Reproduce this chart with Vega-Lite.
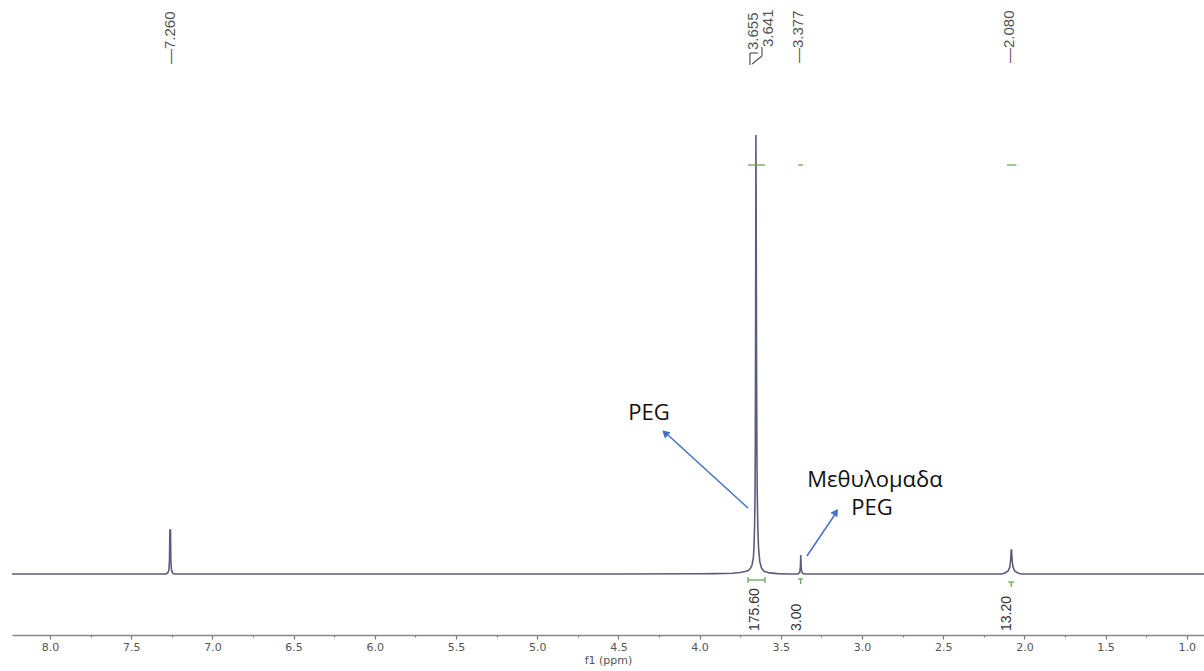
{
  "$schema": "https://vega.github.io/schema/vega-lite/v6.json",
  "width": 1192,
  "height": 635,
  "autosize": {"type": "none"},
  "padding": {"left": 12, "top": 0, "right": 0, "bottom": 36},
  "background": "white",
  "config": {"view": {"stroke": null}},
  "layer": [
    {
      "data": {"values": [
        {"ppm": 8.234, "intensity": 0}, {"ppm": 7.6, "intensity": 0}, {"ppm": 7.3, "intensity": 0},
        {"ppm": 7.285, "intensity": 0}, {"ppm": 7.275, "intensity": 1}, {"ppm": 7.268, "intensity": 4},
        {"ppm": 7.264, "intensity": 14}, {"ppm": 7.262, "intensity": 44}, {"ppm": 7.258, "intensity": 44},
        {"ppm": 7.256, "intensity": 14}, {"ppm": 7.252, "intensity": 4}, {"ppm": 7.245, "intensity": 1},
        {"ppm": 7.235, "intensity": 0}, {"ppm": 6.0, "intensity": 0}, {"ppm": 4.5, "intensity": 0},
        {"ppm": 4.0, "intensity": 0.2}, {"ppm": 3.9, "intensity": 0.4}, {"ppm": 3.8, "intensity": 0.8},
        {"ppm": 3.75, "intensity": 1.5}, {"ppm": 3.72, "intensity": 2.5}, {"ppm": 3.7, "intensity": 3.5},
        {"ppm": 3.688, "intensity": 5.5}, {"ppm": 3.677, "intensity": 9}, {"ppm": 3.669, "intensity": 16},
        {"ppm": 3.665, "intensity": 27}, {"ppm": 3.661, "intensity": 50}, {"ppm": 3.659, "intensity": 75},
        {"ppm": 3.657, "intensity": 125}, {"ppm": 3.655, "intensity": 250}, {"ppm": 3.653, "intensity": 439},
        {"ppm": 3.651, "intensity": 330}, {"ppm": 3.649, "intensity": 200}, {"ppm": 3.647, "intensity": 120},
        {"ppm": 3.645, "intensity": 80}, {"ppm": 3.641, "intensity": 44}, {"ppm": 3.637, "intensity": 26},
        {"ppm": 3.629, "intensity": 12}, {"ppm": 3.618, "intensity": 5.7}, {"ppm": 3.603, "intensity": 2.8},
        {"ppm": 3.57, "intensity": 1.1}, {"ppm": 3.52, "intensity": 0.4}, {"ppm": 3.45, "intensity": 0},
        {"ppm": 3.4, "intensity": 0}, {"ppm": 3.39, "intensity": 0.5}, {"ppm": 3.383, "intensity": 2},
        {"ppm": 3.379, "intensity": 8}, {"ppm": 3.377, "intensity": 19}, {"ppm": 3.375, "intensity": 8},
        {"ppm": 3.371, "intensity": 2}, {"ppm": 3.364, "intensity": 0.5}, {"ppm": 3.35, "intensity": 0},
        {"ppm": 2.5, "intensity": 0}, {"ppm": 2.14, "intensity": 0}, {"ppm": 2.12, "intensity": 1},
        {"ppm": 2.1, "intensity": 3}, {"ppm": 2.09, "intensity": 7}, {"ppm": 2.085, "intensity": 13},
        {"ppm": 2.081, "intensity": 24}, {"ppm": 2.079, "intensity": 24}, {"ppm": 2.075, "intensity": 13},
        {"ppm": 2.07, "intensity": 7}, {"ppm": 2.06, "intensity": 3}, {"ppm": 2.04, "intensity": 1},
        {"ppm": 2.02, "intensity": 0}, {"ppm": 1.5, "intensity": 0}, {"ppm": 0.894, "intensity": 0}
      ]},
      "mark": {"type": "line", "color": "#5c5c7c", "strokeWidth": 1.6},
      "encoding": {
        "x": {
          "field": "ppm", "type": "quantitative",
          "scale": {"domain": [0.894, 8.234], "reverse": true, "nice": false, "zero": false},
          "axis": {
            "title": "f1 (ppm)",
            "values": [8.0, 7.75, 7.5, 7.25, 7.0, 6.75, 6.5, 6.25, 6.0, 5.75, 5.5, 5.25, 5.0, 4.75, 4.5, 4.25, 4.0, 3.75, 3.5, 3.25, 3.0, 2.75, 2.5, 2.25, 2.0, 1.75, 1.5, 1.25, 1.0],
            "labelExpr": "datum.value % 0.5 === 0 ? format(datum.value, '.1f') : ''",
            "tickSize": {"condition": {"test": "datum.value % 0.5 !== 0", "value": 2}, "value": 4},
            "grid": false,
            "domainColor": "#888888", "domainWidth": 1.5,
            "tickColor": "#777777", "tickWidth": 1.2,
            "labelFont": "DejaVu Sans", "labelFontSize": 11, "labelColor": "#555555",
            "labelPadding": 2, "labelFlush": false, "labelOverlap": false,
            "titleFont": "DejaVu Sans", "titleFontSize": 11, "titleFontWeight": "normal",
            "titleColor": "#555555", "titlePadding": 2
          }
        },
        "y": {
          "field": "intensity", "type": "quantitative",
          "scale": {"domain": [-61, 574], "nice": false, "zero": false},
          "axis": null
        }
      }
    },
    {
      "data": {"values": [
        {"ppm": 3.690, "ppm2": 3.640, "y": 521, "y2": 521},
        {"ppm": 3.690, "ppm2": 3.690, "y": 521, "y2": 509},
        {"ppm": 3.616, "ppm2": 3.616, "y": 527, "y2": 518},
        {"ppm": 3.616, "ppm2": 3.677, "y": 518, "y2": 510}
      ]},
      "mark": {"type": "rule", "color": "#555555", "strokeWidth": 1.2},
      "encoding": {
        "x": {"field": "ppm", "type": "quantitative"},
        "x2": {"field": "ppm2"},
        "y": {"field": "y", "type": "quantitative", "axis": null},
        "y2": {"field": "y2"}
      }
    },
    {
      "data": {"values": [
        {"ppm": 7.261, "y": 510, "label": "—7.260"},
        {"ppm": 3.671, "y": 524, "label": "3.655"},
        {"ppm": 3.579, "y": 527, "label": "3.641"},
        {"ppm": 3.394, "y": 511, "label": "—3.377"},
        {"ppm": 2.095, "y": 511, "label": "—2.080"}
      ]},
      "mark": {"type": "text", "angle": 270, "align": "left", "baseline": "middle", "font": "Liberation Sans", "fontSize": 15, "color": "#555555"},
      "encoding": {
        "x": {"field": "ppm", "type": "quantitative"},
        "y": {"field": "y", "type": "quantitative", "axis": null},
        "text": {"field": "label"}
      }
    },
    {
      "data": {"values": [
        {"ppm": 3.659, "y": -57, "label": "175.60"},
        {"ppm": 3.400, "y": -57, "label": "3.00"},
        {"ppm": 2.107, "y": -57, "label": "13.20"}
      ]},
      "mark": {"type": "text", "angle": 270, "align": "left", "baseline": "middle", "font": "Liberation Sans", "fontSize": 14, "color": "#333333"},
      "encoding": {
        "x": {"field": "ppm", "type": "quantitative"},
        "y": {"field": "y", "type": "quantitative", "axis": null},
        "text": {"field": "label"}
      }
    },
    {
      "data": {"values": [
        {"ppm": 3.702, "ppm2": 3.597, "y": -6, "y2": -6},
        {"ppm": 3.702, "ppm2": 3.702, "y": -3, "y2": -9},
        {"ppm": 3.597, "ppm2": 3.597, "y": -3, "y2": -9},
        {"ppm": 3.394, "ppm2": 3.363, "y": -5, "y2": -5},
        {"ppm": 3.378, "ppm2": 3.378, "y": -5, "y2": -10},
        {"ppm": 2.100, "ppm2": 2.063, "y": -8, "y2": -8},
        {"ppm": 2.081, "ppm2": 2.081, "y": -8, "y2": -13},
        {"ppm": 3.702, "ppm2": 3.597, "y": 409, "y2": 409},
        {"ppm": 3.394, "ppm2": 3.363, "y": 409, "y2": 409},
        {"ppm": 2.107, "ppm2": 2.049, "y": 409, "y2": 409}
      ]},
      "mark": {"type": "rule", "color": "#6aa85a", "strokeWidth": 1.3},
      "encoding": {
        "x": {"field": "ppm", "type": "quantitative"},
        "x2": {"field": "ppm2"},
        "y": {"field": "y", "type": "quantitative", "axis": null},
        "y2": {"field": "y2"}
      }
    },
    {
      "data": {"values": [
        {"ppm": 3.702, "ppm2": 4.222, "y": 66, "y2": 143},
        {"ppm": 3.339, "ppm2": 3.152, "y": 18, "y2": 63}
      ]},
      "mark": {"type": "rule", "color": "#4472c4", "strokeWidth": 1.5},
      "encoding": {
        "x": {"field": "ppm", "type": "quantitative"},
        "x2": {"field": "ppm2"},
        "y": {"field": "y", "type": "quantitative", "axis": null},
        "y2": {"field": "y2"}
      }
    },
    {
      "data": {"values": [{"ppm": 4.213, "y": 141}]},
      "mark": {"type": "point", "shape": "triangle-up", "filled": true, "size": 70, "opacity": 1, "color": "#4472c4", "angle": 312},
      "encoding": {
        "x": {"field": "ppm", "type": "quantitative"},
        "y": {"field": "y", "type": "quantitative", "axis": null}
      }
    },
    {
      "data": {"values": [{"ppm": 3.161, "y": 62}]},
      "mark": {"type": "point", "shape": "triangle-up", "filled": true, "size": 70, "opacity": 1, "color": "#4472c4", "angle": 33},
      "encoding": {
        "x": {"field": "ppm", "type": "quantitative"},
        "y": {"field": "y", "type": "quantitative", "axis": null}
      }
    },
    {
      "data": {"values": [
        {"ppm": 4.312, "y": 154, "label": "PEG"},
        {"ppm": 2.920, "y": 87, "label": "Μεθυλομαδα"},
        {"ppm": 2.938, "y": 59, "label": "PEG"}
      ]},
      "mark": {"type": "text", "align": "center", "baseline": "alphabetic", "font": "Open Sans", "fontSize": 22, "color": "#111111"},
      "encoding": {
        "x": {"field": "ppm", "type": "quantitative"},
        "y": {"field": "y", "type": "quantitative", "axis": null},
        "text": {"field": "label"}
      }
    }
  ]
}
